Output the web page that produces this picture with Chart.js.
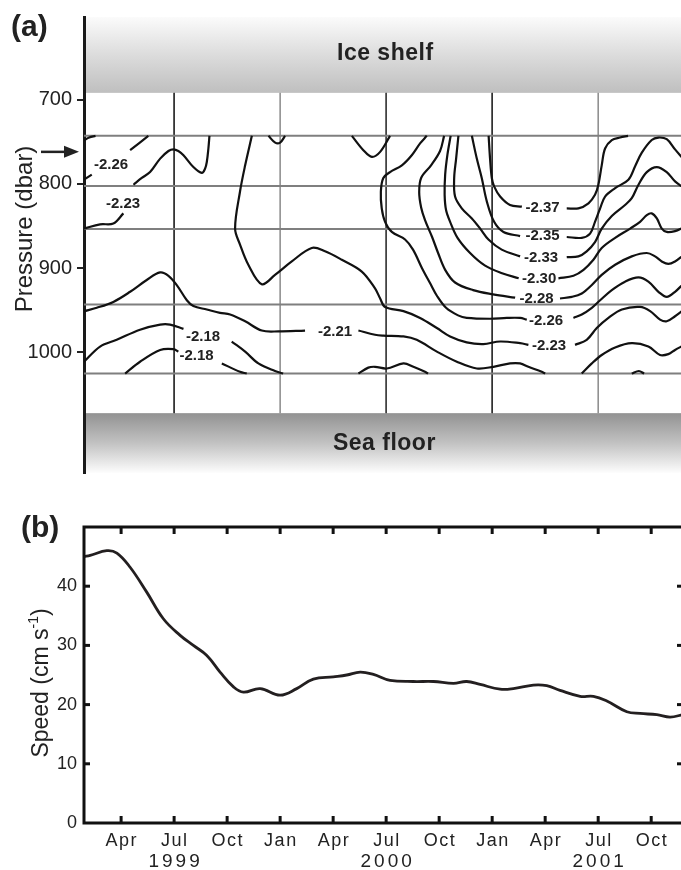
<!DOCTYPE html>
<html><head><meta charset="utf-8">
<script src="https://cdn.jsdelivr.net/npm/chart.js@4.4.1/dist/chart.umd.min.js"></script>
<style>
html,body{margin:0;padding:0;background:#fff;overflow:hidden;width:681px;height:870px;}
#wa{position:absolute;left:0;top:0;width:684px;height:490px;}
#wb{position:absolute;left:0;top:500px;width:684px;height:370px;}
</style></head><body>
<div id="wa"><canvas id="ca"></canvas></div>
<div id="wb"><canvas id="cb"></canvas></div>
<script>
// ---------- shared time axis (months since 1 Jan 1999) ----------
const X_MIN = 0.9, X_MAX = 34.8;
const monthTicks  = [3, 6, 9, 12, 15, 18, 21, 24, 27, 30, 33];
const monthLabels = ['Apr','Jul','Oct','Jan','Apr','Jul','Oct','Jan','Apr','Jul','Oct'];
const yearTickMonths = [6, 18, 30];
const yearLabels = ['1999','2000','2001'];

// ---------- panel (a): pressure axis ----------
const pressureTicks = [700, 800, 900, 1000];
const instrumentDepths = [743, 802.5, 853.5, 943, 1025];
const gridMonths = [6, 12, 18, 24, 30];
const gridMonthColors = ['#2a2a2a','#8a8a8a','#3a3a3a','#2a2a2a','#8a8a8a'];
const gridMonthWidths = [1, 1.5, 1, 1, 1.5];
const iceShelfBase = 692, seaFloorTop = 1072;
const arrowDepth = 762;

// contour segments: [month, dbar]
const c_topleft   = [[[0.9,748],[1.2,745],[1.55,743]]];
const c226_early  = [[[0.9,795],[1.34,789]], [[3.51,760],[4.54,743]]];
const c223_early  = [[[0.9,853],[1.81,848],[2.56,847],[3.13,835]],
  [[3.70,801],[4.17,793],[4.64,786],[5.21,770],[5.68,761],[5.96,759],[6.24,761],[6.53,766],[7.09,780],[7.57,787],[7.75,782],[7.85,774],[7.94,758],[8.0,743]]];
const c223_main   = [[[10.40,743],[10.02,778],[9.73,809],[9.45,853],[9.73,872],[10.20,896],[10.96,919],[11.71,908],[12.66,892],[13.79,876],[14.54,880],[15.49,890],[16.62,904],[17.37,924],[17.66,936],[17.94,946],[18.98,951],[19.92,959],[20.87,971],[21.62,981],[22.56,988],[23.50,990],[24.45,987],[25.58,989],[26.05,991]],
  [[28.69,991],[29.35,985],[29.92,971],[30.58,959],[31.34,949],[32.37,946],[32.94,951],[33.50,961],[33.88,963],[34.35,957],[34.8,950]]];
const c221_main   = [[[0.9,951],[1.62,947],[2.56,940],[3.51,928],[4.45,914],[5.21,905],[5.68,909],[6.15,920],[6.72,938],[7.09,945],[7.85,949],[8.60,953],[9.17,955],[10.02,963],[10.96,974],[11.90,975],[13.41,974]],
  [[16.43,974],[17.37,979],[17.84,980],[18.98,981],[19.73,985],[20.87,999],[22.0,1011],[23.13,1019],[24.07,1017],[25.01,1013],[25.58,1013],[26.05,1017],[26.81,1023],[27.0,1025]]];
const c221_right  = [[[29.07,1025],[29.64,1013],[30.2,1003],[30.96,994],[31.9,989],[32.84,993],[33.50,1003],[33.97,1002],[34.35,997],[34.8,992]]];
const c218_upper  = [[[0.9,1011],[1.81,993],[2.75,985],[4.07,973],[5.21,967],[5.77,967],[6.53,972]],
  [[9.26,987],[10.02,999],[10.77,1013],[11.71,1022],[12.17,1025]]];
const c218_lower  = [[[3.23,1025],[4.07,1011],[5.21,997],[5.96,996],[6.24,999]],
  [[8.70,1013],[9.73,1023],[10.11,1025]]];
const c_bottomBumps = [[[16.43,1025],[16.99,1018],[17.37,1017],[18.04,1019],[18.98,1013],[19.54,1017],[20.2,1023],[20.37,1025]],
  [[31.9,1025],[32.3,1022],[32.6,1025]]];
const c_topDips   = [[[11.34,743],[11.72,751],[12.0,751],[12.28,743]],
  [[16.06,743],[16.71,760],[17.19,768],[17.66,762],[18.22,743]]];
const c226_main   = [[[20.30,743],[19.92,752],[19.45,766],[18.89,778],[18.22,786],[17.84,793],[17.70,809],[17.75,829],[17.94,845],[18.32,857],[19.07,866],[19.52,878],[20.03,900],[20.49,918],[20.88,933],[21.39,947],[22.07,956],[22.56,959],[23.88,960],[24.83,959],[25.58,959],[25.96,961]],
  [[28.60,959],[29.07,955],[29.64,947],[30.11,938],[30.77,926],[31.52,916],[32.28,911],[32.84,916],[33.41,928],[33.88,934],[34.35,928],[34.8,919]]];
const c228 = [[[21.28,743],[21.05,761],[20.54,778],[19.98,793],[19.87,810],[19.98,828],[20.20,843],[20.60,863],[20.94,882],[21.34,902],[21.90,917],[22.92,926],[24.05,931],[25.30,935]],
  [[27.84,936],[28.51,934],[29.07,930],[29.64,920],[30.2,908],[30.96,896],[31.90,886],[32.75,882],[33.22,886],[33.60,892],[33.97,895],[34.35,892],[34.8,885]]];
const c230 = [[[21.65,743],[21.47,765],[21.34,789],[21.31,813],[21.39,831],[21.62,845],[22.04,864],[22.75,882],[23.60,897],[24.56,906],[25.5,912]],
  [[27.75,912],[28.60,909],[29.17,902],[29.73,890],[30.2,876],[30.96,864],[31.81,853],[32.37,845],[32.75,837],[33.03,835],[33.32,841],[33.60,853],[33.88,857],[34.35,856],[34.8,852]]];
const c233 = [[[22.09,743],[21.96,770],[21.85,793],[21.90,815],[22.28,829],[22.85,841],[23.32,853],[23.79,866],[24.54,878],[25.58,886]],
  [[28.22,887],[28.88,886],[29.35,880],[29.82,869],[30.2,853],[30.77,838],[31.52,825],[31.90,817],[32.28,801],[32.75,786],[33.32,780],[33.88,786],[34.35,797],[34.8,804]]];
const c235 = [[[22.85,743],[23.13,770],[23.41,793],[23.70,821],[24.11,845],[24.64,857],[25.58,862]],
  [[28.22,863],[29.07,864],[29.54,859],[29.82,845],[30.11,829],[30.39,815],[30.96,805],[31.71,795],[32.09,779],[32.47,763],[33.03,748],[33.41,745],[33.88,747],[34.35,759],[34.8,770]]];
const c237 = [[[23.80,743],[23.88,770],[23.98,793],[24.11,803],[24.45,815],[25.01,825],[25.68,827]],
  [[28.22,829],[28.88,829],[29.45,823],[29.82,813],[30.01,801],[30.2,778],[30.39,758],[30.77,748],[31.24,745],[31.69,743]]];

const contourLabelText = ['-2.26','-2.23','-2.18','-2.18','-2.21','-2.37','-2.35','-2.33','-2.30','-2.28','-2.26','-2.23'];
const contourLabelMonth = [2.43, 3.11, 7.64, 7.27, 15.11, 26.85, 26.85, 26.77, 26.66, 26.51, 27.05, 27.22];
const contourLabelDbar  = [777, 824, 981, 1004, 975, 829, 862, 888, 913, 936, 962, 992];

// ---------- panel (b): speed ----------
const speedTicks = [0, 10, 20, 30, 40];
const speedMonths = [0.9,1.25,2.19,2.76,3.51,4.45,5.39,6.34,7.09,7.85,8.60,9.36,9.92,10.87,12.0,12.94,13.88,15.01,15.77,16.53,17.28,18.22,19.54,20.68,21.81,22.56,23.32,24.45,25.2,26.33,27.09,27.84,28.98,29.73,30.49,31.62,32.37,33.32,34.07,34.8];
const speedValues = [45.0,45.2,46.0,45.6,43.2,39.0,34.5,31.7,30.0,28.3,25.5,23.0,22.1,22.7,21.6,22.7,24.3,24.7,25.0,25.5,25.1,24.1,23.9,23.9,23.6,23.9,23.4,22.6,22.7,23.3,23.2,22.4,21.4,21.4,20.6,18.8,18.5,18.3,17.9,18.3];

const FONT = "'Liberation Sans', Arial, Helvetica, sans-serif";
const INK = '#222';

function drawVTitle(ctx, parts, baseX, centerY, size) {
  ctx.save();
  const supSize = Math.round(size * 0.6);
  let total = 0;
  const widths = parts.map(p => { ctx.font = (p.sup ? supSize : size) + 'px ' + FONT; const w = ctx.measureText(p.t).width; total += w; return w; });
  ctx.translate(baseX, centerY);
  ctx.rotate(-Math.PI / 2);
  ctx.textAlign = 'left'; ctx.textBaseline = 'alphabetic'; ctx.fillStyle = INK;
  let x = -total / 2;
  parts.forEach((p, i) => {
    ctx.font = (p.sup ? supSize : size) + 'px ' + FONT;
    ctx.fillText(p.t, x, p.sup ? -size * 0.42 : 0);
    x += widths[i];
  });
  ctx.restore();
}

// ---------- build panel (a) ----------
const allContours = [c_topleft, c226_early, c223_early, c223_main, c221_main, c221_right, c218_upper, c218_lower,
  c_bottomBumps, c_topDips, c226_main, c228, c230, c233, c235, c237];
const dsA = [];
allContours.forEach(c => c.forEach(seg => dsA.push({
  data: seg.map(([x, y]) => ({x, y})), borderColor: '#111', borderWidth: 2.2, tension: 0.35,
  pointRadius: 0, fill: false, order: 0
})));
instrumentDepths.forEach(d => dsA.push({
  data: [{x: X_MIN, y: d}, {x: X_MAX, y: d}], borderColor: '#7f7f7f', borderWidth: 2,
  pointRadius: 0, tension: 0, order: 5
}));
gridMonths.forEach((m, i) => dsA.push({
  data: [{x: m, y: iceShelfBase}, {x: m, y: seaFloorTop}], borderColor: gridMonthColors[i],
  borderWidth: gridMonthWidths[i], pointRadius: 0, tension: 0, order: 6
}));

const panelAPlugin = {
  id: 'panelA',
  beforeDraw(chart) {
    const {ctx, chartArea: {left, right, top, bottom}, scales: {y}} = chart;
    const yIce = y.getPixelForValue(iceShelfBase);
    let g = ctx.createLinearGradient(0, top, 0, yIce);
    g.addColorStop(0, '#fbfbfb'); g.addColorStop(0.5, '#dcdcdc'); g.addColorStop(1, '#bfbfbf');
    ctx.fillStyle = g; ctx.fillRect(left, top, right - left, yIce - top);
    const ySea = y.getPixelForValue(seaFloorTop);
    g = ctx.createLinearGradient(0, ySea, 0, bottom);
    g.addColorStop(0, '#929292'); g.addColorStop(0.5, '#c2c2c2'); g.addColorStop(1, '#fdfdfd');
    ctx.fillStyle = g; ctx.fillRect(left, ySea, right - left, bottom - ySea);
  },
  afterDatasetsDraw(chart) {
    const {ctx, scales: {x, y}} = chart;
    ctx.save();
    ctx.fillStyle = INK; ctx.textAlign = 'center'; ctx.textBaseline = 'middle';
    ctx.font = 'bold 15px ' + FONT;
    contourLabelText.forEach((t, i) => ctx.fillText(t, x.getPixelForValue(contourLabelMonth[i]), y.getPixelForValue(contourLabelDbar[i])));
    ctx.font = 'bold 23px ' + FONT;
    ctx.letterSpacing = '0.5px';
    ctx.fillText('Ice shelf', x.getPixelForValue(17.95), y.getPixelForValue(646));
    ctx.fillText('Sea floor', x.getPixelForValue(17.9), y.getPixelForValue(1108));
    ctx.letterSpacing = '0px';
    ctx.restore();
  },
  afterDraw(chart) {
    const {ctx, scales: {y}} = chart;
    ctx.save();
    ctx.fillStyle = INK; ctx.font = 'bold 30px ' + FONT; ctx.textAlign = 'left'; ctx.textBaseline = 'alphabetic';
    ctx.fillText('(a)', 11, 36);
    const ay = y.getPixelForValue(arrowDepth);
    ctx.strokeStyle = INK; ctx.lineWidth = 2.5;
    ctx.beginPath(); ctx.moveTo(41, ay); ctx.lineTo(67, ay); ctx.stroke();
    ctx.beginPath(); ctx.moveTo(64, ay - 6); ctx.lineTo(79, ay); ctx.lineTo(64, ay + 6); ctx.closePath(); ctx.fill();
    ctx.restore();
    drawVTitle(ctx, [{t: 'Pressure (dbar)'}], 32, 229, 24);
  }
};

new Chart(document.getElementById('ca'), {
  type: 'line',
  data: {datasets: dsA},
  options: {
    responsive: true, maintainAspectRatio: false, animation: false, events: [],
    layout: {padding: {top: 17, bottom: 17, left: 0, right: 1}},
    plugins: {legend: {display: false}, tooltip: {enabled: false}},
    scales: {
      x: {type: 'linear', min: X_MIN, max: X_MAX, display: false},
      y: {
        type: 'linear', reverse: true, min: 602, max: 1143,
        afterBuildTicks: s => { s.ticks = pressureTicks.map(v => ({value: v})); },
        afterFit: s => { s.width = 84; },
        ticks: {font: {family: FONT, size: 20}, color: INK, padding: 5, callback: v => String(v)},
        grid: {drawOnChartArea: false, drawTicks: true, tickLength: 7, color: INK, lineWidth: 2},
        border: {display: true, color: '#1a1a1a', width: 3}
      }
    }
  },
  plugins: [panelAPlugin]
});

// ---------- build panel (b) ----------
const panelBPlugin = {
  id: 'panelB',
  afterDraw(chart) {
    const {ctx, chartArea: {left, right, top, bottom}, scales: {x, y}} = chart;
    ctx.save();
    ctx.strokeStyle = '#111'; ctx.lineWidth = 3;
    ctx.beginPath(); ctx.moveTo(left, top); ctx.lineTo(right, top); ctx.lineTo(right, bottom); ctx.lineTo(left, bottom); ctx.closePath(); ctx.stroke();
    ctx.lineWidth = 3;
    monthTicks.forEach(m => {
      const px = x.getPixelForValue(m);
      ctx.beginPath(); ctx.moveTo(px, top); ctx.lineTo(px, top + 7); ctx.stroke();
      ctx.beginPath(); ctx.moveTo(px, bottom); ctx.lineTo(px, bottom - 7); ctx.stroke();
    });
    speedTicks.forEach(v => {
      if (v === 0) return;
      const py = y.getPixelForValue(v);
      ctx.beginPath(); ctx.moveTo(left, py); ctx.lineTo(left + 6, py); ctx.stroke();
      ctx.beginPath(); ctx.moveTo(right, py); ctx.lineTo(right - 6, py); ctx.stroke();
    });
    ctx.fillStyle = INK; ctx.textAlign = 'center'; ctx.textBaseline = 'middle';
    ctx.font = '18px ' + FONT;
    ctx.letterSpacing = '1.5px';
    monthTicks.forEach((m, i) => ctx.fillText(monthLabels[i], x.getPixelForValue(m) + 0.75, bottom + 18));
    ctx.font = '19px ' + FONT;
    ctx.letterSpacing = '3px';
    yearTickMonths.forEach((m, i) => ctx.fillText(yearLabels[i], x.getPixelForValue(m) + 1.5, bottom + 39));
    ctx.letterSpacing = '0px';
    ctx.textAlign = 'left'; ctx.textBaseline = 'alphabetic';
    ctx.font = 'bold 30px ' + FONT;
    ctx.fillText('(b)', 21, 37);
    ctx.restore();
    drawVTitle(ctx, [{t: 'Speed (cm s'}, {t: '-1', sup: true}, {t: ')'}], 48, 183, 23);
  }
};

new Chart(document.getElementById('cb'), {
  type: 'line',
  data: {datasets: [{
    data: speedMonths.map((m, i) => ({x: m, y: speedValues[i]})),
    borderColor: '#231f20', borderWidth: 2.8, tension: 0.4, pointRadius: 0, fill: false
  }]},
  options: {
    responsive: true, maintainAspectRatio: false, animation: false, events: [],
    layout: {padding: {top: 27, bottom: 0, left: 0, right: 1}},
    plugins: {legend: {display: false}, tooltip: {enabled: false}},
    scales: {
      x: {
        type: 'linear', min: X_MIN, max: X_MAX,
        afterBuildTicks: s => { s.ticks = monthTicks.map(v => ({value: v})); },
        afterFit: s => { s.height = 47; },
        ticks: {display: false},
        grid: {display: false, drawTicks: false},
        border: {display: false}
      },
      y: {
        type: 'linear', min: 0, max: 50,
        afterBuildTicks: s => { s.ticks = speedTicks.map(v => ({value: v})); },
        afterFit: s => { s.width = 84; },
        ticks: {font: {family: FONT, size: 18}, color: INK, padding: 7, callback: v => String(v)},
        grid: {display: false, drawTicks: false},
        border: {display: false}
      }
    }
  },
  plugins: [panelBPlugin]
});
</script>
</body></html>
